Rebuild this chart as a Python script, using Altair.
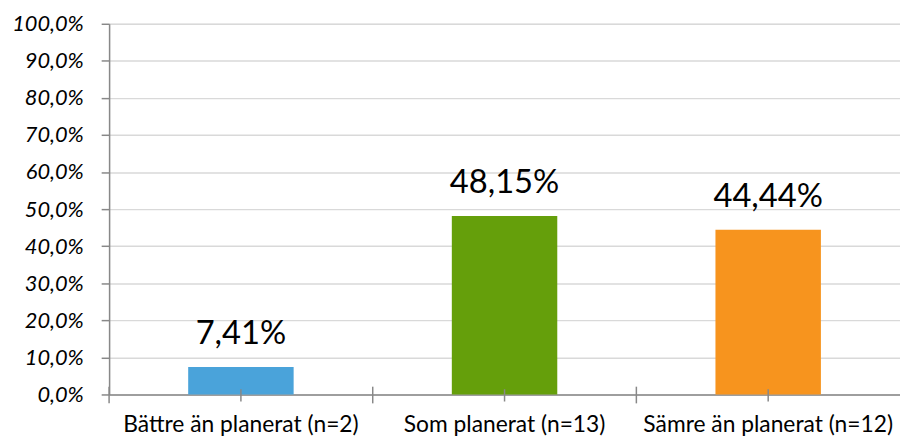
import altair as alt
import pandas as pd

categories = ["Bättre än planerat (n=2)", "Som planerat (n=13)", "Sämre än planerat (n=12)"]
values = [7.41, 48.15, 44.44]
colors = ["#4AA3DA", "#659F0B", "#F7941E"]
y_ticks = [0, 10, 20, 30, 40, 50, 60, 70, 80, 90, 100]

labels = [f"{v:.2f}".replace(".", ",") + "%" for v in values]
df = pd.DataFrame({"cat": categories, "val": values, "label": labels, "color": colors})

FONT = "Lato"
PLOT_W = 798
STEP = PLOT_W / 3
x_scale = alt.Scale(paddingInner=0.6, paddingOuter=0.3)
x_axis = alt.Axis(labelAngle=0, labelFont=FONT, labelFontSize=23, labelColor="#000000",
                  labelPadding=19, labelLimit=0, labelOverlap=False, ticks=False,
                  domainColor="#888888", domainWidth=1.5, grid=False)
y_scale = alt.Scale(domain=[0, 100], nice=False)
y_axis = alt.Axis(values=y_ticks, tickCount=11, labelFont=FONT, labelFontSize=22, labelFontStyle="italic",
                  labelColor="#000000", labelPadding=18, tickSize=8, tickColor="#888888",
                  tickWidth=1.5, domainColor="#888888", domainWidth=1.5,
                  labelOverlap=False, labelLimit=0,
                  gridColor="#D9D9D9", gridWidth=1.5,
                  labelExpr="replace(format(datum.value, '.1f'), '.', ',') + '%'")

x_enc = alt.X("cat:N", sort=categories, title=None, scale=x_scale, axis=x_axis)
y_enc = alt.Y("val:Q", title=None, scale=y_scale, axis=y_axis)

bars = alt.Chart(df).mark_bar().encode(
    x=x_enc, y=y_enc,
    color=alt.Color("color:N", scale=None),
)

text = alt.Chart(df).mark_text(font=FONT, fontSize=33, baseline="alphabetic", dy=-23, color="#000000").encode(
    x=x_enc, y=y_enc, text="label:N"
)

# category boundary ticks: half a step left of each category centre
edge_ticks = alt.Chart(df).mark_rule(color="#888888", strokeWidth=1.5, xOffset=-STEP / 2).encode(
    x=x_enc,
    y=alt.YDatum(2.1, scale=y_scale, axis=y_axis, title=None),
    y2=alt.Y2Datum(-2.4),
)
center_ticks = alt.Chart(df).mark_rule(color="#888888", strokeWidth=1.5).encode(
    x=x_enc,
    y=alt.YDatum(1.4, scale=y_scale, axis=y_axis, title=None),
    y2=alt.Y2Datum(-1.9),
)

chart = alt.layer(bars, center_ticks, edge_ticks, text).properties(
    width=PLOT_W, height=374,
    autosize=alt.AutoSizeParams(type="none"),
    padding={"left": 102, "top": 14, "right": 0, "bottom": 43},
).configure_view(stroke=None).configure(background="#ffffff")

chart.save("out.html", embed_options={"renderer": "svg", "actions": False})
